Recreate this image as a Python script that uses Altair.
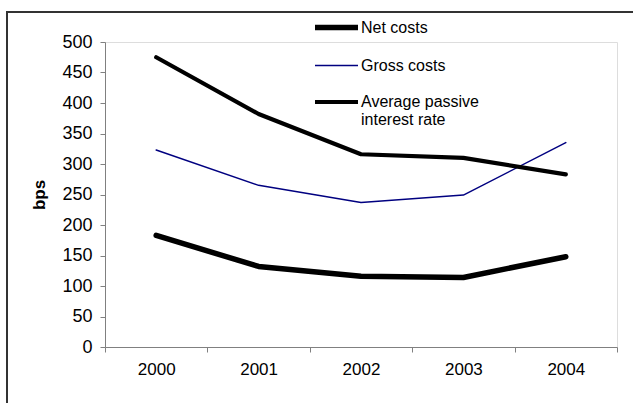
import altair as alt
import pandas as pd

# Cost series in basis points, 2000-2004
years = ["2000", "2001", "2002", "2003", "2004"]
net_costs = [183, 132, 116, 114, 148]
gross_costs = [323, 265, 237, 249, 335]
avg_passive_rate = [475, 382, 316, 310, 283]

series_names = ["Net costs", "Gross costs", "Average passive interest rate"]
series_colors = ["#000000", "#000080", "#000000"]
series_widths = [5.5, 1.5, 4.2]

rows = []
for name, values in zip(series_names, [net_costs, gross_costs, avg_passive_rate]):
    for yr, v in zip(years, values):
        rows.append({"year": yr, "series": name, "bps": v})
df = pd.DataFrame(rows)

FONT = "Liberation Sans"

legend = alt.Legend(
    title=None,
    orient="none",
    legendX=207,
    legendY=-39,
    padding=0,
    symbolType="stroke",
    symbolSize=1849,
    labelFont=FONT,
    labelFontSize=16,
    labelColor="black",
    labelOffset=0,
    labelLimit=0,
    rowPadding=4,
    labelExpr="datum.label == 'Average passive interest rate' ? ['Average passive', 'interest rate'] : datum.label",
)

lines = alt.Chart(df).mark_line(strokeCap="round", strokeJoin="round").encode(
    x=alt.X(
        "year:O",
        scale=alt.Scale(type="band", paddingInner=0, paddingOuter=0),
        bandPosition=0.5,
        axis=alt.Axis(
            title=None,
            tickBand="extent",
            labelAngle=0,
            tickSize=5,
            labelPadding=9,
            labelFont=FONT,
            labelFontSize=17,
            labelColor="black",
            domainColor="#808080",
            tickColor="#808080",
            grid=False,
        ),
    ),
    y=alt.Y(
        "bps:Q",
        scale=alt.Scale(domain=[0, 500], nice=False),
        axis=alt.Axis(
            title="bps",
            values=list(range(0, 501, 50)),
            tickSize=5,
            labelPadding=8,
            labelFont=FONT,
            labelFontSize=18,
            labelColor="black",
            titleFont=FONT,
            titleFontSize=17,
            titleFontWeight="bold",
            titleColor="black",
            titlePadding=13,
            domainColor="#808080",
            tickColor="#808080",
            grid=False,
        ),
    ),
    color=alt.Color(
        "series:N",
        scale=alt.Scale(domain=series_names, range=series_colors),
        legend=legend,
    ),
    strokeWidth=alt.StrokeWidth(
        "series:N",
        scale=alt.Scale(type="ordinal", domain=series_names, range=series_widths),
        legend=legend,
    ),
    detail="series:N",
)

# Outer chart frame: top and left edges, running to the edge of the canvas
frame_base = alt.Chart(alt.Data(values=[{}])).mark_rule(color="#333333", strokeWidth=2)
frame_top = frame_base.encode(x=alt.value(-99), x2=alt.value(528), y=alt.value(-30))
frame_left = frame_base.encode(x=alt.value(-98), y=alt.value(-31), y2=alt.value(361))

chart = (
    alt.layer(frame_top, frame_left, lines)
    .properties(
        width=512,
        height=305,
        autosize=alt.AutoSizeParams(type="none"),
        padding={"left": 105, "top": 42, "right": 16, "bottom": 56},
    )
    .configure_view(stroke=None)
    .configure(font=FONT, background="white")
)

chart.save("out.html", embed_options={"renderer": "svg", "actions": False})
